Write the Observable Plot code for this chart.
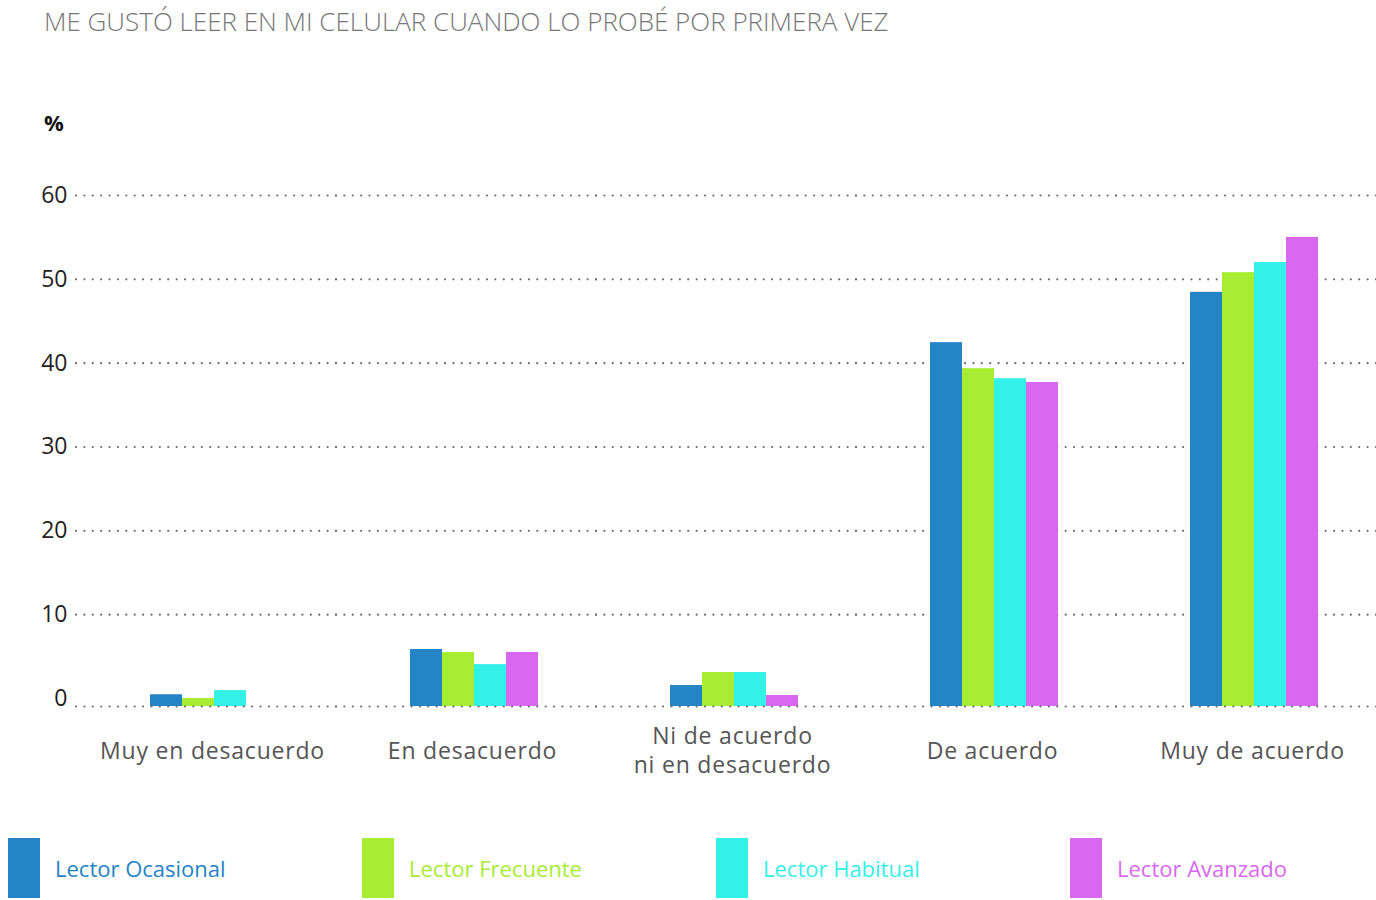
<!DOCTYPE html>
<html>
<head>
<meta charset="utf-8">
<script src="https://cdn.jsdelivr.net/npm/d3@7"></script>
<script src="https://cdn.jsdelivr.net/npm/@observablehq/plot@0.6"></script>
<style>
  body { margin: 0; background: #fff; font-family: "Open Sans", sans-serif; }
  #wrap { position: relative; width: 1376px; height: 900px; overflow: hidden; }
  #title { position: absolute; left: 44px; top: 3px; font-size: 26px; font-weight: 300; color: #777; white-space: nowrap; }
  #unit { position: absolute; left: 44px; top: 107px; font-size: 22px; font-weight: 700; color: #111; }
  #chart { position: absolute; left: 0; top: 56px; }
  #chart g[aria-label="text"] text { letter-spacing: 0.8px; }
  #legend { position: absolute; left: 8px; top: 838px; display: flex; }
  .item { width: 354px; display: flex; align-items: center; }
  .sw { width: 32px; height: 60px; margin-right: 15px; }
  .lab { font-size: 22px; }
</style>
</head>
<body>
<div id="wrap">
  <div id="title">ME GUSTÓ LEER EN MI CELULAR CUANDO LO PROBÉ POR PRIMERA VEZ</div>
  <div id="unit">%</div>
  <div id="chart"></div>
  <div id="legend"></div>
</div>
<script>
const categories = ["Muy en desacuerdo", "En desacuerdo", "Ni de acuerdo\nni en desacuerdo", "De acuerdo", "Muy de acuerdo"];
const series = ["Lector Ocasional", "Lector Frecuente", "Lector Habitual", "Lector Avanzado"];
const colors = ["#2484C6", "#A6ED33", "#34F1E8", "#D968F1"];
const ocasional = [0.45, 5.85, 1.55, 42.45, 48.45];
const frecuente = [0.0, 5.5, 3.1, 39.35, 50.8];
const habitual  = [0.95, 4.05, 3.1, 38.15, 52.0];
const avanzado  = [null, 5.5, 0.36, 37.7, 55.0];
const yTicks = [0, 10, 20, 30, 40, 50, 60];
const gridTicks = [10, 20, 30, 40, 50, 60];
const yDomain = [-0.95, 60];

const seriesValues = [ocasional, frecuente, habitual, avanzado];
const rows = [];
categories.forEach((c, i) => {
  series.forEach((s, j) => {
    const v = seriesValues[j][i];
    if (v != null) rows.push({cat: c, ser: s, value: v});
  });
});

const dot = {stroke: "#6b6b6b", strokeWidth: 2.2, strokeDasharray: "0 " + (260 / 31), strokeLinecap: "round"};

const chart = Plot.plot({
  width: 1376,
  height: 760,
  marginTop: 139,
  marginBottom: 110,
  marginLeft: 76,
  marginRight: 0,
  style: {fontFamily: "'Open Sans', sans-serif", fontSize: "23px", color: "#222", background: "transparent"},
  fx: {domain: categories, padding: 0, axis: null},
  x: {domain: series, paddingInner: 0, paddingOuter: 2.0625, align: 0.56, axis: null},
  y: {domain: yDomain, ticks: yTicks, tickSize: 0, tickPadding: 9, label: null},
  color: {domain: series, range: colors},
  marks: [
    Plot.ruleY(gridTicks, dot),
    Plot.barY(rows, {fx: "cat", x: "ser", y1: () => yDomain[0], y2: "value", fill: "ser"}),
    Plot.ruleY([yDomain[0]], dot),
    Plot.text(categories, {fx: d => d, text: d => d, frameAnchor: "bottom", lineAnchor: "middle", dx: 6, dy: 43, fontSize: 23, fill: "#555", lineHeight: 1.26})
  ]
});
document.getElementById("chart").appendChild(chart);

const legend = document.getElementById("legend");
series.forEach((s, j) => {
  const it = document.createElement("div");
  it.className = "item";
  it.innerHTML = `<div class="sw" style="background:${colors[j]}"></div><span class="lab" style="color:${colors[j]}">${s}</span>`;
  legend.appendChild(it);
});
</script>
</body>
</html>
